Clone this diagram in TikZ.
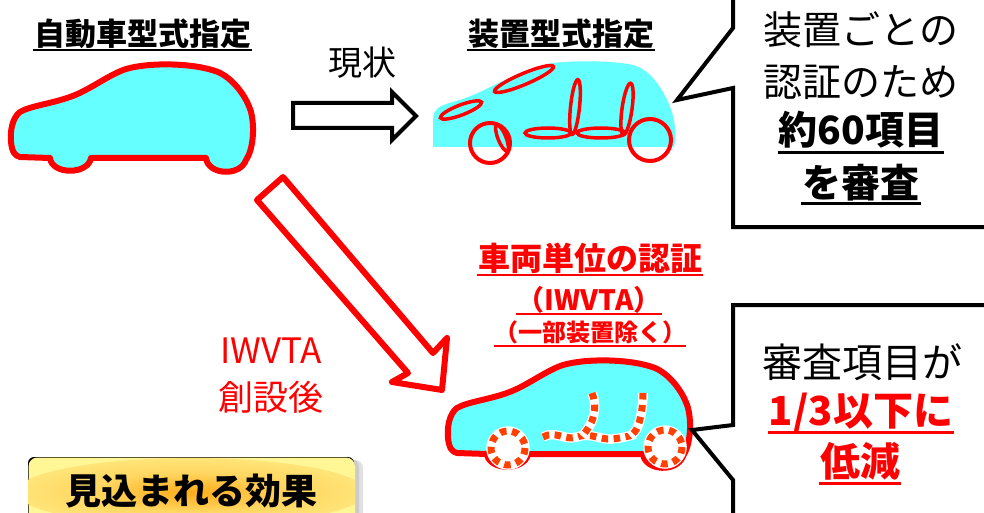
\documentclass[tikz,border=0pt]{standalone}
\usepackage{fontspec}
\setmainfont{Noto Sans CJK JP}
\usetikzlibrary{calc}

\definecolor{bodycyan}{RGB}{102,255,255}
\definecolor{dashorange}{RGB}{255,64,0}
\definecolor{boxyellow}{RGB}{255,246,150}
\definecolor{glowmid}{RGB}{255,214,96}
\definecolor{glowcore}{RGB}{255,172,24}

\pgfdeclareradialshading{glowshade}{\pgfpoint{0bp}{0bp}}{%
  color(0bp)=(glowcore); color(14bp)=(glowmid); color(38bp)=(boxyellow); color(50bp)=(boxyellow)}

% car silhouette, drawn in the coordinates of the upper-left car
\def\carbody{(20,157) -- (50,158) .. controls (52,175) and (88,175) .. (91,158)
  -- (206,158) .. controls (208,175) and (240,177) .. (246,160)
  .. controls (253,150) and (255,128) .. (251,112)
  .. controls (246,95) and (232,78) .. (218,72)
  .. controls (195,63) and (150,62) .. (126,69)
  .. controls (108,75) and (90,90) .. (70,97)
  .. controls (50,104) and (30,106) .. (20,112)
  .. controls (12,118) and (10,132) .. (11,142)
  .. controls (12,152) and (15,156) .. (20,157) -- cycle}

\begin{document}
\begin{tikzpicture}[x=1pt,y=-1pt,
  title/.style={inner sep=0pt, anchor=base, font=\fontsize{31}{31}\selectfont\bfseries},
  calltext/.style={inner sep=0pt, anchor=base, font=\fontsize{39}{39}\selectfont},
  callbold/.style={calltext, font=\fontsize{39}{39}\selectfont\bfseries},
  uline/.style={line width=2.6pt},
  carline/.style={draw=red, line width=6pt, fill=bodycyan, line join=round},
  partline/.style={draw=red, line width=3.5pt},
  dashpart/.style={draw=dashorange, line width=7pt, dash pattern=on 6.5pt off 5.5pt,
    preaction={draw=white, line width=9.5pt}},
  balloon/.style={draw=black, line width=4pt, line join=miter},
  blockarrow/.style={draw=black, line width=4pt, fill=white, line join=miter},
  bigarrow/.style={draw=red, line width=6pt, fill=white, line join=round}
]
\useasboundingbox (0,0) rectangle (984,513);
\clip (0,0) rectangle (984,513);

% ---------- headings ----------
\node[title] (t1) at (142.5,46) {自動車型式指定};
\draw[uline] ([yshift=-4pt,xshift=-1pt]t1.base west) -- ([yshift=-4pt,xshift=1pt]t1.base east);
\node[title] (t2) at (561,46) {装置型式指定};
\draw[uline] ([yshift=-4pt,xshift=-1pt]t2.base west) -- ([yshift=-4pt,xshift=1pt]t2.base east);

% ---------- current type approval car ----------
\path[carline] \carbody;

% ---------- "current" arrow ----------
\node[inner sep=0pt, anchor=base, font=\fontsize{34}{34}\selectfont] (now) at (362,76) {現状};
\draw[blockarrow] (293,103) -- (392,103) -- (392,92) -- (416,116) -- (392,140)
  -- (392,128) -- (293,128) -- cycle;

% ---------- component approval car ----------
\fill[bodycyan] (433,147) -- (433,118) .. controls (434,110) and (438,107) .. (446,104)
  .. controls (460,100) and (470,97) .. (482,91)
  .. controls (505,80) and (530,67) .. (553,63)
  .. controls (580,60) and (615,61) .. (633,65)
  .. controls (652,70) and (665,92) .. (672,112)
  .. controls (676,125) and (676,140) .. (674,147) -- cycle;
\draw[partline, rotate around={21:(461,110)}] (461,110) ellipse [x radius=22, y radius=5];
\draw[partline, rotate around={23:(524,79)}] (524,79) ellipse [x radius=32, y radius=5.5];
\draw[partline, rotate around={84:(575,107)}] (575,107) ellipse [x radius=27.5, y radius=4.5];
\draw[partline] (548,133) ellipse [x radius=23, y radius=5];
\draw[partline, rotate around={82:(627,109)}] (627,109) ellipse [x radius=26, y radius=5];
\draw[partline] (601,133) ellipse [x radius=24, y radius=5];
\draw[partline, rotate around={112:(502,138)}] (502,138) ellipse [x radius=14, y radius=4];
\draw[red, line width=4pt] (490,143) circle [radius=20];
\draw[red, line width=4pt] (650,140) circle [radius=21];

% ---------- upper balloon ----------
\draw[balloon] (733,-10) -- (733,28) -- (677,100) -- (733,88) -- (733,227) -- (995,227);
\node[calltext] (c1a) at (861,45) {装置ごとの};
\node[calltext] (c1b) at (861,97) {認証のため};
\node[callbold] (c1c) at (861,145) {約60項目};
\draw[line width=3pt] ([yshift=-8pt,xshift=-1pt]c1c.base west) -- ([yshift=-8pt,xshift=1pt]c1c.base east);
\node[callbold] (c1d) at (861,197) {を審査};
\draw[line width=3pt] ([yshift=-6pt,xshift=-1pt]c1d.base west) -- ([yshift=-6pt,xshift=1pt]c1d.base east);

% ---------- IWVTA arrow ----------
\draw[bigarrow] (257,200) -- (283,177) -- (433,353) -- (447,338) -- (442,390)
  -- (392,382) -- (408,373) -- cycle;
\node[inner sep=0pt, anchor=base, text=red, font=\fontsize{35}{35}\selectfont] (aft1) at (271,363) {IWVTA};
\node[inner sep=0pt, anchor=base, text=red, font=\fontsize{35}{35}\selectfont] (aft2) at (271,410) {創設後};

% ---------- whole-vehicle approval heading ----------
\node[inner sep=0pt, anchor=base, text=red, font=\fontsize{32}{32}\selectfont\bfseries] (r1) at (590,270) {車両単位の認証};
\draw[red, uline] ([yshift=-5pt,xshift=-1pt]r1.base west) -- ([yshift=-5pt,xshift=1pt]r1.base east);
\node[inner sep=0pt, anchor=base, text=red, font=\fontsize{28}{28}\selectfont\bfseries] (r2) at (589,310) {（IWVTA）};
\draw[red, uline] ([yshift=-4pt]r2.base west) -- ([yshift=-4pt]r2.base east);
\node[inner sep=0pt, anchor=base, text=red, font=\fontsize{24}{24}\selectfont\bfseries] (r3) at (590,341) {（一部装置除く）};
\draw[red, uline] ([yshift=-5pt]r3.base west) -- ([yshift=-5pt]r3.base east);

% ---------- whole-vehicle approval car ----------
\begin{scope}[shift={(437,296)}]
  \path[carline] \carbody;
\end{scope}
\draw[dashpart] (543,437) .. controls (555,430) and (565,441) .. (577,437)
  .. controls (590,432) and (600,440) .. (612,439) .. controls (622,438) and (630,436) .. (635,434);
\draw[dashpart] (592,393) .. controls (597,405) and (594,418) .. (590,425) .. controls (587,430) and (585,433) .. (582,436);
\draw[dashpart] (643,393) .. controls (643,405) and (641,418) .. (638,426) .. controls (636,431) and (634,433) .. (630,436);
\draw[dashpart, fill=white] (508,448) circle [radius=17];
\draw[dashpart, fill=white] (665,447) circle [radius=17];

% ---------- lower balloon ----------
\draw[balloon] (733,525) -- (733,480) -- (692,430) -- (733,425) -- (733,305) -- (995,305);
\node[calltext, font=\fontsize{40}{40}\selectfont] (c2a) at (862,377) {審査項目が};
\node[calltext, text=red, font=\fontsize{40}{40}\selectfont\bfseries] (c2b) at (861,425) {1/3以下に};
\draw[red, line width=3pt] ([yshift=-7pt,xshift=-1pt]c2b.base west) -- ([yshift=-7pt,xshift=1pt]c2b.base east);
\node[calltext, text=red, font=\fontsize{40}{40}\selectfont\bfseries] (c2c) at (860,476) {低減};
\draw[red, line width=3pt] ([yshift=-7pt,xshift=-1pt]c2c.base west) -- ([yshift=-7pt,xshift=1pt]c2c.base east);

% ---------- expected effect label ----------
\fill[black!35, opacity=0.35, rounded corners=8pt] (32,460) rectangle (363,530);
\fill[black!35, opacity=0.35, rounded corners=8pt] (30,459) rectangle (359,530);
\fill[black, rounded corners=6pt] (28,457) rectangle (354,530);
\fill[boxyellow, rounded corners=9pt] (28.5,457.5) rectangle (355,530);
\begin{scope}
  \clip[rounded corners=9pt] (28.5,457.5) rectangle (355,530);
  \shade[shading=glowshade] (191,492) ellipse [x radius=175, y radius=34];
\end{scope}
\node[inner sep=0pt, anchor=base, font=\fontsize{36}{36}\selectfont\bfseries] (eff) at (191,504) {見込まれる効果};
\end{tikzpicture}
\end{document}
